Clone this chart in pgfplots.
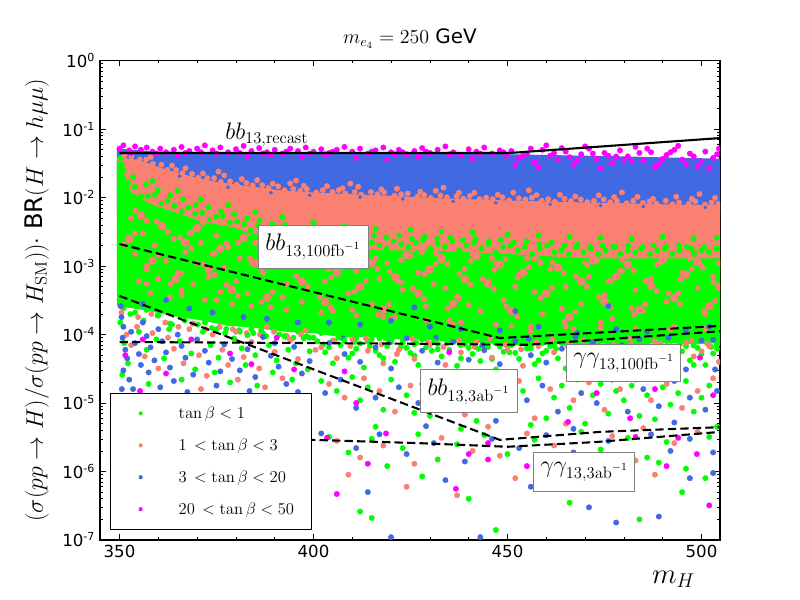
\documentclass[border=0pt]{standalone}
\usepackage[no-math]{fontspec}
\setmainfont{DejaVu Sans}
\usepackage{pgfplots}
\pgfplotsset{compat=1.18}
\definecolor{cgreen}{HTML}{00FF00}
\definecolor{csalmon}{HTML}{FA8072}
\definecolor{cblue}{HTML}{4169E1}
\definecolor{cmag}{HTML}{FF00FF}
\pgfplotsset{dots/.style={only marks, mark=*, mark size=1.95bp, mark options={line width=0.3bp}}}
\tikzset{lbl/.style={draw=gray, fill=white, line width=0.7bp, inner sep=0pt, font=\fontsize{17}{20}\selectfont}}
\begin{document}
\begin{tikzpicture}
\begin{axis}[
  scale only axis, width=446.4bp, height=345.1bp,
  xmin=344.97, xmax=504.77, ymin=1e-7, ymax=1, ymode=log,
  xtick={350,400,450,500}, minor x tick num=4,
  ytick={1e-7,1e-6,1e-5,1e-4,1e-3,1e-2,1e-1,1},
  yticklabels={10\textsuperscript{-7},10\textsuperscript{-6},10\textsuperscript{-5},10\textsuperscript{-4},10\textsuperscript{-3},10\textsuperscript{-2},10\textsuperscript{-1},10\textsuperscript{0}},
  minor ytick={2e-7,3e-7,4e-7,5e-7,6e-7,7e-7,8e-7,9e-7,2e-6,3e-6,4e-6,5e-6,6e-6,7e-6,8e-6,9e-6,2e-5,3e-5,4e-5,5e-5,6e-5,7e-5,8e-5,9e-5,2e-4,3e-4,4e-4,5e-4,6e-4,7e-4,8e-4,9e-4,2e-3,3e-3,4e-3,5e-3,6e-3,7e-3,8e-3,9e-3,2e-2,3e-2,4e-2,5e-2,6e-2,7e-2,8e-2,9e-2,2e-1,3e-1,4e-1,5e-1,6e-1,7e-1,8e-1,9e-1},
  tick align=inside, tick pos=both,
  major tick length=4bp, minor tick length=2bp,
  every tick/.style={black, line width=0.5bp},
  axis line style={line width=1bp},
  tick label style={font=\fontsize{12}{14}\selectfont},
  /pgf/number format/assume math mode=true,
  /pgf/number format/1000 sep={},
  clip marker paths=true,
  title={$m_{e_4}=250$ GeV},
  title style={font=\fontsize{14.4}{17}\selectfont, at={(0.5,1)}, anchor=base, yshift=6.3bp},
  ylabel={$(\sigma(pp\to H)/\sigma(pp\to H_{\mathrm{SM}}))\cdot$ BR$(H\to h\mu\mu)$},
  ylabel style={font=\fontsize{17.5}{21}\selectfont, at={(axis description cs:-0.1017,0.5)}, anchor=center},
  xlabel={$m_H$},
  xlabel style={font=\fontsize{20}{24}\selectfont, at={(axis description cs:1,0)}, anchor=base east, xshift=-14.4bp, yshift=-31bp},
  legend style={at={(0.0161,0.0208)}, anchor=south west, draw=black, line width=1bp, fill=white,
    inner xsep=0pt, inner ysep=3bp, row sep=0pt, font=\fontsize{12.5}{15}\selectfont,
    nodes={inner sep=0pt, text height=15.5bp, text depth=7.5bp}},
  legend cell align=left,
  legend image code/.code={\path[draw=none, fill=none] (0bp,-1bp) rectangle (49bp,1bp); \fill[#1, draw=none] (21.6bp,0bp) circle (1.5bp);},
]
% dense bands
\addplot[fill=cblue, draw=none, forget plot] coordinates {(349.3,0.052)(360,0.047)(400,0.045)(450,0.043)(480,0.04)(505,0.037)(505,0.006)(349.3,0.006)} -- cycle;
\addplot[fill=csalmon, draw=none, forget plot] coordinates {(349.3,0.039)(355,0.0355)(360,0.028)(365,0.023)(370,0.0194)(375,0.017)(380,0.0155)(385,0.0143)(390,0.0131)(395,0.0124)(400,0.0119)(410,0.0112)(420,0.0107)(430,0.0099)(440,0.0095)(450,0.0091)(460,0.0088)(470,0.0085)(480,0.0083)(490,0.008)(505,0.0078)(505,8e-4)(349.3,8e-4)} -- cycle;
\addplot[fill=cgreen, draw=none, forget plot] coordinates {(349.3,0.038)(351.5,0.02)(353,0.012)(358,0.008)(364,0.0062)(371,0.0045)(379,0.0037)(384,0.003)(392,0.0025)(402,0.002)(417,0.0017)(430,0.0017)(450,0.0015)(470,0.0013)(505,0.0013)(505,7.5e-5)(497,7.2e-5)(490,7.6e-5)(482,7e-5)(475,7.4e-5)(467,7e-5)(460,7.4e-5)(452,7e-5)(445,7.6e-5)(437,7.5e-5)(430,8.4e-5)(422,8.5e-5)(415,9.2e-5)(407,9.2e-5)(400,1.05e-4)(393,1.1e-4)(385,1.25e-4)(378,1.35e-4)(370,1.65e-4)(363,1.9e-4)(356,2.3e-4)(349.3,2.6e-4)} -- cycle;
% salmon blotches inside the green core
\addplot[dots, color=csalmon, mark size=2.9bp, forget plot] coordinates {(352.5,2.5e-3)(355.5,5.5e-3)(358.5,1.2e-3)(361,3.8e-3)(364.5,6.5e-4)(367,2.2e-3)(370,3.6e-3)(373,9e-4)(376,1.8e-3)(379,4.5e-4)(382,2.6e-3)(385,1.1e-3)(388,3.5e-4)(391,1.6e-3)(394,2.2e-3)(397,6e-4)(400,1.2e-3)(403,3e-4)(406,8e-4)(409,1.7e-3)(412,5e-4)(415,1.1e-3)(418,2.3e-4)(421,7e-4)(424,1.45e-3)(427,4e-4)(430,9e-4)(433,1.3e-3)(436,2.8e-4)(439,6.5e-4)(442,1.4e-3)(445,5.5e-4)(448,1.05e-3)(451,2.2e-4)(454,8e-4)(457,1.35e-3)(460,4e-4)(463,9.5e-4)(466,1.8e-4)(469,6e-4)(472,1.2e-3)(475,3e-4)(478,7e-4)(481,1.05e-3)(484,2.3e-4)(487,5.2e-4)(490,1.25e-3)(493,3.4e-4)(496,7.5e-4)(499,1.15e-3)(502,2.6e-4)(504.5,5e-4)};
\addplot[dots, color=csalmon, forget plot] coordinates {(354,3e-3)(351.1,2.1e-3)(357,4.6e-3)(354.1,6.5e-3)(360,1.44e-3)(357.1,1.02e-3)(362.5,3.15e-3)(359.6,4.5e-3)(366,7.8e-4)(363.1,5.5e-4)(368.5,1.83e-3)(365.6,2.6e-3)(371.5,4.3e-3)(368.6,3.06e-3)(374.5,7.5e-4)(371.6,1.06e-3)(377.5,2.16e-3)(374.6,1.53e-3)(380.5,3.7e-4)(377.6,5.3e-4)(383.5,3.1e-3)(380.6,2.2e-3)(386.5,9.1e-4)(383.6,1.3e-3)(389.5,4.2e-4)(386.6,3e-4)(392.5,1.33e-3)(389.6,1.89e-3)(395.5,2.64e-3)(392.6,1.87e-3)(398.5,5e-4)(395.6,7.1e-4)(401.5,1.44e-3)(398.6,1.02e-3)(404.5,2.5e-4)(401.6,3.5e-4)(407.5,9.6e-4)(404.6,6.8e-4)(410.5,1.41e-3)(407.6,2.0e-3)(413.5,6e-4)(410.6,4.25e-4)(416.5,9.1e-4)(413.6,1.3e-3)(419.5,2.76e-4)(416.6,1.95e-4)(422.5,5.8e-4)(419.6,8.3e-4)(425.5,1.74e-3)(422.6,1.23e-3)(428.5,3.3e-4)(425.6,4.7e-4)(431.5,1.08e-3)(428.6,7.65e-4)(434.5,1.08e-3)(431.6,1.53e-3)(437.5,3.36e-4)(434.6,2.4e-4)(440.5,5.4e-4)(437.6,7.7e-4)(443.5,1.68e-3)(440.6,1.19e-3)(446.5,4.6e-4)(443.6,6.5e-4)(449.5,1.26e-3)(446.6,8.9e-4)(452.5,1.83e-4)(449.6,2.6e-4)(455.5,9.6e-4)(452.6,6.8e-4)(458.5,1.12e-3)(455.6,1.59e-3)(461.5,4.8e-4)(458.6,3.4e-4)(464.5,7.9e-4)(461.6,1.12e-3)(467.5,2.16e-4)(464.6,1.53e-4)(470.5,5e-4)(467.6,7.1e-4)(473.5,1.44e-3)(470.6,1.02e-3)(476.5,2.5e-4)(473.6,3.5e-4)(479.5,8.4e-4)(476.6,6e-4)(482.5,8.7e-4)(479.6,1.24e-3)(485.5,2.76e-4)(482.6,1.95e-4)(488.5,4.3e-4)(485.6,6.1e-4)(491.5,1.5e-3)(488.6,1.06e-3)(494.5,2.8e-4)(491.6,4e-4)(497.5,9e-4)(494.6,6.4e-4)(500.5,9.5e-4)(497.6,1.36e-3)(503.5,3.1e-4)(500.6,2.2e-4)(503.1,5.9e-4)
(353,5e-3)(354,1.5e-3)(355,6e-4)(356,3e-3)(357,9e-4)(358,4e-4)(359,2e-3)(360,6.5e-4)(361,4e-3)(362,1.2e-3)(363,3.5e-4)(364,2.5e-3)(365,8e-4)(366,4.5e-4)(367,1.6e-3)(368,3e-3)(369,5.5e-4)(370,1.1e-3)(371,2.2e-3)(372,3.2e-4)(373,7e-4)(374,1.5e-3)(375,2.8e-3)(376,4.2e-4)(377,9.5e-4)(378,1.9e-3)(379,2.8e-4)(380,6e-4)
(381,1.3e-3)(383,4e-4)(385,2.2e-3)(387,8e-4)(389,2.5e-4)(391,1.5e-3)(393,5.5e-4)(395,2e-3)(397,3e-4)(399,1e-3)(401,1.6e-3)(403,6e-4)(405,2.2e-4)(407,1.2e-3)(409,4e-4)(411,8.5e-4)(413,1.5e-3)(415,2.8e-4)(417,6.5e-4)(419,1.1e-3)(421,1.8e-4)(423,4.5e-4)(425,1.4e-3)(427,8e-4)(429,2.6e-4)(431,5.5e-4)(433,1.2e-3)(435,1.6e-4)(437,3.6e-4)(439,9e-4)(441,1.5e-3)(443,2.2e-4)(445,6e-4)(447,1.1e-3)(449,3.2e-4)(451,1.35e-4)(453,7.5e-4)(455,1.3e-3)(457,4.2e-4)(459,2e-4)(461,9e-4)(463,1.45e-3)(465,5e-4)(467,1.2e-4)(469,2.8e-4)(471,7e-4)(473,1.2e-3)(475,3.8e-4)(477,1.7e-4)(479,8.5e-4)(481,1.4e-3)(483,4.5e-4)(485,2.2e-4)(487,6.5e-4)(489,1.1e-3)(491,3e-4)(493,1.3e-4)(495,8e-4)(497,1.3e-3)(499,4.8e-4)(501,2e-4)(503,7e-4)(504.5,1.1e-3)
(384,1.1e-3)(392,3.5e-4)(398,1.6e-3)(404,9e-4)(410,2.3e-4)(416,1.3e-3)(422,6e-4)(428,1.6e-3)(434,4.8e-4)(440,2.7e-4)(446,1.3e-3)(452,5e-4)(458,1.6e-3)(464,2.4e-4)(470,1.1e-3)(476,6e-4)(482,2.4e-4)(488,1.5e-3)(494,4e-4)(500,1e-3)(474,1.5e-4)(456,1.1e-4)(436,1.4e-4)(418,1.8e-4)
(357,5.5e-4)(366,3.8e-4)(375,3.2e-4)(384,2.6e-4)(393,2.3e-4)(402,2.1e-4)(411,1.9e-4)(420,1.7e-4)(429,1.6e-4)(438,1.5e-4)(447,1.4e-4)(456,1.3e-4)(465,1.3e-4)(474,1.25e-4)(483,1.2e-4)(492,1.2e-4)(501,1.2e-4)};
\addplot[dots, color=cblue, forget plot] coordinates {(356,2.8e-4)(362,3.2e-4)(368,2.4e-4)(374,2.1e-4)(382,1.8e-4)(388,1.7e-4)(396,1.5e-4)(404,1.5e-4)(412,1.4e-4)(420,1.6e-4)(430,1.3e-4)(438,1.2e-4)(448,1.15e-4)(458,1.3e-4)(468,1.05e-4)(478,1.2e-4)(486,1.1e-4)(496,1.15e-4)(502,1.3e-4)(426,2.5e-4)(452,2.2e-4)(476,2.6e-4)};
% green fuzzy edges of the core
\addplot[dots, color=cgreen, forget plot] coordinates {(350.3,0.038)(350.6,0.03)(351,0.025)(350.4,0.022)(351.8,0.017)
(352.2,0.0165)(353.9,0.0143)(355.6,0.0105)(357.3,0.0105)(359.1,0.0111)(360.8,0.0082)(362.4,0.0089)(364.2,0.0076)(366.1,0.0063)(367.8,0.0072)(369.5,0.0058)(371.3,0.006)(373.2,0.0048)(374.9,0.0052)(376.6,0.0054)(378.4,0.0043)(380.3,0.0045)(382.1,0.0041)(383.8,0.0033)(385.6,0.0039)(387.5,0.0035)(389.2,0.0029)(391.1,0.0033)(392.9,0.0031)(394.7,0.0026)(396.5,0.0031)(398.4,0.0025)(400.2,0.0027)(402.1,0.0028)(403.9,0.0022)(405.8,0.0024)(407.6,0.0021)(409.5,0.0023)(411.3,0.0024)(413.2,0.0019)(415.1,0.0022)(417,0.002)(418.9,0.0018)(420.7,0.0023)(422.6,0.0021)(424.5,0.0019)(426.4,0.0022)(428.2,0.0024)(430.1,0.0018)(432,0.0021)(433.9,0.0019)(435.8,0.0023)(437.6,0.0017)(439.5,0.002)(441.4,0.0022)(443.3,0.0018)(445.1,0.0021)(447,0.0016)(448.9,0.0019)(450.8,0.002)(452.7,0.0017)(454.5,0.0019)(456.4,0.0015)(458.3,0.0018)(460.2,0.002)(462.1,0.0016)(463.9,0.0017)(465.8,0.0015)(467.7,0.0019)(469.6,0.0016)(471.5,0.0018)(473.4,0.0015)(475.3,0.0017)(477.2,0.0019)(479.1,0.0015)(481,0.0017)(482.9,0.0016)(484.8,0.0019)(486.7,0.0015)(488.6,0.0017)(490.5,0.0018)(492.4,0.0015)(494.3,0.0017)(496.2,0.0019)(498.1,0.0015)(500,0.0017)(501.9,0.0016)(503.8,0.0018)
(353.5,0.02)(356.8,0.0155)(359.9,0.0128)(363.1,0.0108)(366.4,0.0095)(369.7,0.0078)(372.9,0.0073)(376.2,0.0063)(379.6,0.0058)(382.9,0.005)(386.1,0.0047)(389.4,0.0041)(392.6,0.004)(395.9,0.0036)(399.2,0.0034)(402.5,0.0032)(405.7,0.0029)(409,0.003)(412.3,0.0027)(415.6,0.0028)(418.8,0.0026)(422.1,0.0028)(425.4,0.0025)(428.7,0.0027)(431.9,0.0025)(435.2,0.0026)(438.5,0.0024)(441.8,0.0025)(445.1,0.0023)(448.3,0.0024)(451.6,0.0022)(454.9,0.0023)(458.2,0.0021)(461.4,0.0022)(464.7,0.002)(468,0.0021)(471.3,0.0019)(474.5,0.002)(477.8,0.0019)(481.1,0.002)(484.4,0.0018)(487.6,0.002)(490.9,0.0019)(494.2,0.002)(497.5,0.0018)(500.7,0.0019)(504,0.0018)
(358.5,0.0175)(365,0.0125)(371,0.0095)(378,0.0078)(385,0.0062)(392,0.0052)(400,0.0043)(408,0.0038)(416,0.0035)(425,0.0034)(433,0.0032)(441,0.0031)(450,0.0029)(458,0.0028)(466,0.0027)(474,0.0026)(482,0.0025)(490,0.0027)(498,0.0025)(504,0.0026)
(351,2.4e-4)(354,2.1e-4)(357,2.3e-4)(360,1.9e-4)(363,1.45e-4)(366,1.9e-4)(369,1.45e-4)(372,1.5e-4)(375,1.2e-4)(378,1.5e-4)(381,1.1e-4)(384,1.2e-4)(387,1.05e-4)(390,1.15e-4)(393,9.2e-5)(396,1.1e-4)(399,9e-5)(402,1.05e-4)(405,8.2e-5)(408,9.5e-5)(411,8.8e-5)(414,8e-5)(417,8.8e-5)(420,7.8e-5)(423,8.5e-5)(426,7.2e-5)(429,8.8e-5)(432,7.3e-5)(435,8.2e-5)(438,7e-5)(441,8e-5)(444,6.6e-5)(447,7.8e-5)(450,6.9e-5)(453,7.6e-5)(456,6.3e-5)(459,7.5e-5)(462,6.8e-5)(465,7.4e-5)(468,6.4e-5)(471,7.6e-5)(474,6.7e-5)(477,7.5e-5)(480,6.5e-5)(483,7.7e-5)(486,6.6e-5)(489,7.9e-5)(492,6.8e-5)(495,8e-5)(498,6.9e-5)(501,7.9e-5)(504,7.1e-5)};
% salmon fuzzy edge under the blue band
\addplot[dots, color=csalmon, forget plot] coordinates {(351.3,0.0413)(353.1,0.040)(355.2,0.0361)(356.9,0.036)(358.6,0.0312)(360.8,0.0302)(362.3,0.0255)(364.6,0.0253)(366.2,0.0227)(368.7,0.0223)(370.3,0.0195)(372.6,0.0193)(374.4,0.0193)(376.1,0.0169)(378.5,0.0173)(380.2,0.0155)(382.7,0.0164)(384.3,0.0151)(386.8,0.0152)(388.4,0.0138)(390.9,0.0146)(392.5,0.0128)(394.8,0.0134)(396.6,0.0126)(398.3,0.0133)(400.7,0.0119)(402.4,0.0129)(404.9,0.0121)(406.5,0.0129)(408.2,0.0115)(410.6,0.0121)(412.3,0.0111)(414.8,0.0121)(416.5,0.0112)(418.2,0.012)(420.9,0.0107)(422.6,0.0112)(424.3,0.0115)(426.8,0.0104)(428.5,0.0109)(430.2,0.0099)(432.7,0.0108)(434.4,0.0101)(436.9,0.0105)(438.6,0.0097)(440.3,0.0106)(442.8,0.0095)(444.5,0.01)(446.2,0.0095)(448.7,0.0101)(450.4,0.0091)(452.9,0.0098)(454.6,0.0094)(456.3,0.01)(458.8,0.009)(460.5,0.0095)(462.2,0.0087)(464.7,0.0096)(466.4,0.0089)(468.9,0.0094)(470.6,0.0086)(472.3,0.009)(474.8,0.0094)(476.5,0.0086)(478.2,0.009)(480.7,0.0083)(482.4,0.009)(484.9,0.0084)(486.6,0.0088)(488.3,0.0082)(490.8,0.009)(492.5,0.008)(494.2,0.0085)(496.7,0.0081)(498.4,0.0088)(500.9,0.0079)(502.6,0.0085)(504.3,0.0081)
(358,0.0388)(363.5,0.0294)(367,0.0269)(371.5,0.0226)(377,0.0211)(381.5,0.0187)(385.5,0.018)(389.5,0.016)(394,0.0161)(397.5,0.0149)(403.5,0.0147)(407.5,0.0137)(411.5,0.0144)(417.5,0.0132)(421.5,0.0135)(427.5,0.0122)(431.5,0.0126)(437.5,0.0118)(441.5,0.0118)(447.5,0.011)(451.5,0.0118)(457.5,0.0109)(463.5,0.011)(467.5,0.0104)(473.5,0.0108)(477.5,0.0102)(483.5,0.0103)(487.5,0.0096)(493.5,0.0103)(497.5,0.0096)(503.5,0.0099)
(375.5,0.024)(395.5,0.0178)(409.5,0.016)(433.5,0.014)(455.5,0.0128)(479.5,0.0119)(499.5,0.0113)};
\addplot[dots, color=cblue, mark size=1.2bp, forget plot] coordinates {(365.5,0.0205)(389,0.0118)(412,0.0102)(436,0.0088)(461,0.008)(485,0.0074)(501,0.0072)(423,0.0096)(447,0.0084)(474,0.0077)(399,0.0108)(378,0.0142)};
% extra points just under the core
\addplot[dots, color=csalmon, forget plot] coordinates {(400.5,6e-5)(405.5,8.2e-5)(409.5,6.8e-5)(413.5,8.8e-5)(417.5,7.2e-5)(421.5,5.2e-5)(425.5,8.6e-5)(429.5,7.6e-5)(433.5,6.6e-5)(437.5,8.2e-5)(441.5,6.6e-5)(445.5,8.8e-5)(449.5,7.1e-5)(453.5,6.1e-5)(457.5,7.8e-5)(461.5,8.6e-5)(465.5,6.8e-5)(469.5,8.2e-5)(473.5,5.9e-5)(477.5,7.2e-5)(481.5,8.8e-5)(485.5,6.6e-5)(489.5,7.4e-5)(493.5,5.8e-5)(497.5,8.2e-5)(501.5,7.4e-5)
(354.8,1.8e-4)(358.2,2e-4)(361.8,1.5e-4)(365.2,1.3e-4)(368.8,1.45e-4)(372.2,1.2e-4)(375.8,1.3e-4)(379.2,1.2e-4)(382.8,1.05e-4)(386.2,1.0e-4)(389.8,1.1e-4)(393.2,9.5e-5)(396.8,1.0e-4)};
\addplot[dots, color=cblue, forget plot] coordinates {(407.5,8.8e-5)(419.5,7.6e-5)(431.5,9e-5)(443.5,7e-5)(455.5,8.6e-5)(467.5,9.2e-5)(479.5,7e-5)(491.5,9e-5)(503,8.4e-5)};
\addplot[dots, color=cgreen, forget plot] coordinates {(402.5,7.2e-5)(406.5,9e-5)(410.5,7.8e-5)(414.5,6.8e-5)(418.5,8.8e-5)(422.5,6.6e-5)(426.5,7.6e-5)(430.5,5.8e-5)(434.5,7.5e-5)(438.5,9.5e-5)(442.5,6.2e-5)(446.5,7.8e-5)(450.5,5.5e-5)(454.5,7.4e-5)(458.5,8.8e-5)(462.5,6.2e-5)(466.5,5.3e-5)(470.5,7.4e-5)(474.5,6e-5)(478.5,8.2e-5)(482.5,6.3e-5)(486.5,8.6e-5)(490.5,5.6e-5)(494.5,7.3e-5)(498.5,8.7e-5)(502.5,6.6e-5)
(352.8,2e-4)(356.2,1.6e-4)(359.8,1.9e-4)(362.8,1.2e-4)(366.8,1.6e-4)(370.2,1.4e-4)(373.8,1.25e-4)(377.2,1.05e-4)(380.8,1.15e-4)(384.5,1.05e-4)(387.8,9.5e-5)(391.2,1.0e-4)(394.8,9e-5)(398.2,9.5e-5)};
% sparse points (legend series)
\addplot[dots, color=cgreen] coordinates {(350.2,1.5e-4)(351.2,7.5e-5)(352.2,3.8e-5)(350.7,2.6e-5)(355,1.1e-4)(357,6e-5)(359.5,8.5e-5)(361.5,4.5e-5)(363.5,1.4e-4)(365.5,8e-5)(368.5,5.3e-5)(369.5,3.1e-5)(371.5,1.1e-4)(373.5,7e-5)(375.5,4.6e-5)(377.5,1.2e-4)(379.5,8.8e-5)(381.5,6.3e-5)(383,9.8e-5)(385,5e-5)(386.5,1.15e-4)(388.5,7e-5)(390.5,4.2e-5)(392.5,9.5e-5)(393.5,6e-5)(395.5,3.8e-5)(397.5,8.8e-5)(399,5.7e-5)(374.5,2.8e-5)(382.5,3.6e-5)(389.5,2.8e-5)(398.5,3.1e-5)(394.5,2.2e-5)(366,2.2e-5)(357.5,1.9e-5)(385.5,1.8e-5)(378.5,2.0e-5)
(401,8e-5)(403,5.5e-5)(405,3.8e-5)(407,7e-5)(409,4.6e-5)(411,6.2e-5)(413,3.3e-5)(415,8.5e-5)(417,5e-5)(419,6.8e-5)(421,4e-5)(423,7.6e-5)(425,5.4e-5)(427,3.6e-5)(429,6.5e-5)(431,8e-5)(433,4.8e-5)(435,6e-5)(437,3.5e-5)(439,7.2e-5)(441,5.2e-5)(443,4.1e-5)(445,6.6e-5)(447,3.1e-5)(449,5.6e-5)(451,7e-5)(453,4.4e-5)(455,6.3e-5)(457,3.7e-5)(459,5.3e-5)(461,6.8e-5)(463,4.5e-5)(465,3.2e-5)(467,5.9e-5)(469,2.7e-5)(471,6.4e-5)(473,4.3e-5)(475,5.5e-5)(477,3.4e-5)(479,6.6e-5)(481,2.6e-5)(483,5.1e-5)(485,6.1e-5)(487,3.9e-5)(489,4.8e-5)(491,6.9e-5)(493,3.3e-5)(495,5.7e-5)(497,4.2e-5)(499,6.4e-5)(501,3.6e-5)(503,5.3e-5)(504,7.2e-5)
(400,9e-5)(404,6.5e-5)(408,8.2e-5)(412,7.4e-5)(416,5.8e-5)(420,8.6e-5)(424,6.4e-5)(428,8.4e-5)(432,6.1e-5)(436,8.8e-5)(440,6.4e-5)(444,8.8e-5)(448,6.7e-5)(452,5.4e-5)(456,6.9e-5)(460,5.8e-5)(464,7.5e-5)(468,6.5e-5)(472,5.4e-5)(476,7e-5)(480,5e-5)(484,7.1e-5)(488,5.8e-5)(492,6e-5)(496,6.8e-5)(500,5.2e-5)(504,6.2e-5)(426,4.9e-5)(446,4.4e-5)(466,4.2e-5)(486,4.5e-5)(410,5.3e-5)(418,4.5e-5)(438,4.5e-5)(458,4.2e-5)(478,4.6e-5)(498,3.6e-5)
(402,2.1e-5)(406,1.5e-5)(410,2.4e-5)(412,1.1e-5)(414,1.7e-5)(418,8e-6)(420,2.2e-5)(424,1.3e-5)(428,1.9e-5)(430,6.5e-6)(434,2.3e-5)(436,1.0e-5)(440,1.6e-5)(442,5.5e-6)(446,1.2e-5)(448,2.0e-5)(452,9e-6)(454,1.5e-5)(458,2.3e-5)(460,6e-6)(462,1.2e-5)(464,1.8e-5)(466,8.5e-6)(468,2.2e-5)(472,1.3e-5)(474,1.9e-5)(476,7e-6)(478,1.5e-5)(480,1.1e-5)(482,1.8e-5)(486,1.3e-5)(488,5.8e-6)(490,1.7e-5)(492,9.5e-6)(494,1.4e-5)(496,2.1e-5)(498,7.5e-6)(500,1.2e-5)(502,1.8e-5)(504,4.5e-6)(416,4.5e-6)(426,7.2e-6)(438,4.2e-6)(456,4.8e-6)(470,5e-6)(484,6.5e-6)
(404,3.2e-6)(409,1.9e-6)(415,3e-6)(419,1.2e-6)(423,2.2e-6)(427,3.5e-6)(432,1.5e-6)(437,2.5e-6)(444,3.4e-6)(450,1.8e-6)(457,2.9e-6)(463,1.3e-6)(469,3.8e-6)(474,2.1e-6)(481,3.1e-6)(486,1.6e-6)(491,2.7e-6)(496,1.1e-6)(502,3.2e-6)(489,1.35e-6)
(412,2.6e-7)(415,2.1e-7)(428,8.5e-7)(440,4e-7)(447,1.4e-7)(458,9e-7)(466,3.5e-7)(478,7e-7)(484,2e-7)(495,5e-7)(501,8e-7)};
\addlegendentry{\makebox[95.7bp][l]{$\tan\beta<1$}}
\addplot[dots, color=csalmon] coordinates {(350.5,2.1e-4)(351.8,1.0e-4)(353,7e-5)(354.5,1.3e-4)(356.5,4.8e-5)(358.5,1.05e-4)(360,3.2e-5)(362.5,9e-5)(364,6.2e-5)(366.5,3.8e-5)(368,1.2e-4)(370.5,5e-5)(372.5,2.5e-5)(374,1.0e-4)(376.5,6e-5)(378,3.6e-5)(380,1.1e-4)(382,4.7e-5)(384,7.8e-5)(386,3.2e-5)(388,1.3e-4)(390,5.6e-5)(392,2.3e-5)(394,8.2e-5)(396,4.4e-5)(398,1.15e-4)(371,1.6e-5)(387.5,1.7e-5)(380.5,2.2e-5)
(402,6.5e-5)(406,4.5e-5)(410,8.5e-5)(414,5.8e-5)(418,3.8e-5)(422,6e-5)(426,4.4e-5)(430,7e-5)(434,3.6e-5)(438,5.5e-5)(442,7.8e-5)(446,4.6e-5)(450,6e-5)(454,3.5e-5)(458,6.8e-5)(462,5.5e-5)(466,7.5e-5)(470,4.7e-5)(474,6.5e-5)(478,4.2e-5)(482,7.2e-5)(486,5.4e-5)(490,3.8e-5)(494,6.3e-5)(498,4.8e-5)(502,6.8e-5)(504.5,4e-5)(488,8e-5)(496,7.6e-5)(500,5.7e-5)(480,6e-5)(492,5e-5)
(404,1.9e-5)(408,1.2e-5)(413,2.3e-5)(417,1.5e-5)(421,7.5e-6)(425,1.8e-5)(431,1.1e-5)(435,2.0e-5)(439,6.8e-6)(443,1.5e-5)(449,1.0e-5)(453,2.1e-5)(457,6e-6)(461,1.6e-5)(467,1.1e-5)(471,2.0e-5)(475,8e-6)(479,1.6e-5)(483,2.2e-5)(487,1.1e-5)(491,1.9e-5)(495,8.5e-6)(499,1.5e-5)(503,2.3e-5)(445,4.5e-6)(465,5e-6)(485,4.3e-6)
(406,2.8e-6)(412,1.6e-6)(418,2.4e-6)(426,1.3e-6)(433,3.1e-6)(441,2.0e-6)(448,1.7e-6)(455,3.6e-6)(462,2.4e-6)(470,1.6e-6)(477,3.3e-6)(483,1.45e-6)(493,2.6e-6)(499,3.8e-6)
(409,9e-7)(424,6e-7)(437,4.5e-7)(452,8e-7)(470,5.5e-7)(488,9e-7)};
\addlegendentry{\makebox[95.7bp][l]{$1\,<\tan\beta<3$}}
\addplot[dots, color=cblue] coordinates {(350.3,2.6e-4)(350.5,1.8e-4)(351,1.3e-4)(350.8,9e-5)(351.5,6e-5)(352,4.5e-5)(351,3e-5)(352.5,2.2e-5)(350.6,1.6e-5)(353,1.1e-4)(354,7.5e-5)(355,5.2e-5)(356,1.5e-4)(357,9.5e-5)(358,6.5e-5)(355.5,3.6e-5)(357.5,2.8e-5)(359,4.2e-5)(360,1.2e-4)(361,8e-5)(362,5.5e-5)(363,3.3e-5)(364,2.1e-5)(365,1.0e-4)(366,6.8e-5)(367,4.6e-5)(369,2.6e-5)(370,8.5e-5)(372,5.8e-5)(373,3.9e-5)(375,1.8e-5)(377,7.2e-5)(379,4.4e-5)(381,3.0e-5)(383,6.1e-5)(385,2.4e-5)(387,9.2e-5)(389,4.9e-5)(391,3.4e-5)(393,1.9e-5)(395,6.6e-5)(397,2.7e-5)(399,4.1e-5)(353.5,1.6e-5)(360.5,1.7e-5)(367.5,1.45e-5)(376,2.9e-5)(383.5,1.5e-5)(390,7.5e-5)(396,1.45e-5)
(404,7.5e-5)(408,5.2e-5)(412,4e-5)(416,6.5e-5)(420,3.2e-5)(424,8.8e-5)(428,5.8e-5)(432,3.9e-5)(436,7.8e-5)(440,4.3e-5)(444,5.9e-5)(448,3.7e-5)(452,8e-5)(456,5e-5)(460,3.9e-5)(464,6.2e-5)(468,4.1e-5)(472,7.8e-5)(476,5.2e-5)(480,3.6e-5)(484,8.6e-5)(488,6.4e-5)(492,4.3e-5)(496,3.1e-5)(500,8.2e-5)(503.5,3.1e-5)
(403,1.4e-5)(407,2.2e-5)(411,8.5e-6)(416,1.2e-5)(422,1.7e-5)(427,1.0e-5)(433,1.5e-5)(438,1.9e-5)(444,9e-6)(450,1.4e-5)(455,1.1e-5)(459,1.8e-5)(463,7.5e-6)(469,1.4e-5)(473,1.0e-5)(477,2.2e-5)(481,7.5e-6)(485,1.6e-5)(489,9e-6)(493,2.1e-5)(497,1.2e-5)(501,8e-6)(504,1.5e-5)(429,4.6e-6)(447,5.5e-6)(467,4.2e-6)(493,5.2e-6)
(402,3.6e-6)(411,2.2e-6)(417,3.5e-6)(424,1.8e-6)(431,2.6e-6)(439,1.4e-6)(446,3.0e-6)(453,2.2e-6)(460,3.4e-6)(467,1.9e-6)(476,2.8e-6)(482,1.2e-6)(487,3.5e-6)(492,2.0e-6)(497,3.0e-6)(503,1.9e-6)
(414,5e-7)(420,1.1e-7)(434,7.5e-7)(443,1.1e-7)(456,6e-7)(471,3e-7)(478,1.8e-7)(489,2.2e-7)(497,8e-7)(503,9.5e-7)};
\addlegendentry{\makebox[95.7bp][l]{$3\,<\tan\beta<20$}}
\addplot[dots, color=cmag] coordinates {(350,0.052)(351,0.058)(352.5,0.049)(354,0.056)(355.5,0.05)(357,0.054)(358.5,0.047)(360.5,0.052)(362,0.046)(364,0.05)(366,0.055)(368,0.048)(370,0.052)(372,0.058)(374,0.049)(376,0.054)(378,0.046)(380,0.051)(382,0.057)(384,0.048)(386,0.053)(388,0.046)(390,0.05)(392,0.044)(394,0.052)(396,0.048)(398,0.054)(400,0.047)(402,0.051)(404,0.045)(406,0.05)(408,0.055)(410,0.047)(412,0.052)(414,0.044)(416,0.049)(418,0.054)(420,0.046)(422,0.05)(424,0.043)(426,0.048)(428,0.053)(430,0.045)(432,0.05)(434,0.056)(436,0.046)(438,0.042)(440,0.051)(442,0.047)(444,0.054)(446,0.044)(448,0.049)(450,0.041)
(365,0.041)(383,0.04)(397,0.039)(411,0.038)(427,0.04)(441,0.037)(389,0.042)(419,0.036)
(353,0.045)(359.5,0.044)(367,0.045)(375,0.044)(381,0.045)(387,0.044)(393,0.047)(399,0.044)(405,0.047)(415,0.047)(421,0.043)(429,0.047)(435,0.043)(443,0.044)(449,0.046)(371,0.046)(403,0.043)(423,0.046)
(451,0.048)(453,0.038)(455,0.044)(457,0.033)(459,0.05)(461,0.041)(463,0.036)(465,0.047)(467,0.03)(469,0.043)(471,0.052)(473,0.037)(475,0.045)(477,0.032)(479,0.049)(481,0.04)(483,0.055)(485,0.035)(487,0.046)(489,0.031)(491,0.042)(493,0.05)(495,0.036)(497,0.044)(499,0.029)(501,0.047)(503,0.038)(504.5,0.052)(452,0.03)(458,0.028)(466,0.039)(474,0.027)(482,0.034)(488,0.028)(496,0.031)(502,0.027)(486,0.052)(470,0.056)(460,0.058)(494,0.057)
(454,0.041)(462,0.045)(468,0.035)(476,0.041)(480,0.036)(484,0.045)(490,0.037)(492,0.046)(498,0.04)(500,0.034)(504,0.043)(456,0.052)(464,0.053)(472,0.044)(478,0.04)
(355.3,1.5e-5)(351.5,5e-5)(356,8.5e-5)(362,2.7e-5)(368.5,8.5e-5)(378.5,5.3e-5)(384,3.7e-5)(390.5,9e-5)(395,3.1e-5)(406,4.7e-7)(403.5,3.1e-6)(414,1.3e-6)(418.7,3.6e-6)(411,1.0e-5)(436.7,5.6e-7)(440,1.8e-6)(445,1.5e-6)(455,1.2e-6)(465.6,5.3e-6)(481.6,6e-6)(483,3.2e-6)(491,1.2e-6)(494,3.1e-6)(498.8,1.8e-6)(502,3.2e-7)(503,1.3e-5)(488,1.6e-5)(473,1.4e-5)(499.6,4.6e-5)(435,5.5e-5)(445,2.6e-6)(408,2.9e-5)};
\addlegendentry{\makebox[95.7bp][l]{$20\,<\tan\beta<50$}}
% limit lines
\addplot[black, line width=1.5bp, forget plot] coordinates {(350,0.0449)(450.6,0.0449)(505,0.0743)};
\addplot[black, line width=1.5bp, dash pattern=on 6bp off 3bp, forget plot] coordinates {(350,2.1e-3)(448,8.9e-5)(505,1.34e-4)};
\addplot[black, line width=1.5bp, dash pattern=on 6bp off 3bp, forget plot] coordinates {(350,7.8e-5)(420,7.4e-5)(455,7.1e-5)(505,1.12e-4)};
\addplot[black, line width=1.5bp, dash pattern=on 6bp off 3bp, forget plot] coordinates {(350,3.67e-4)(448,2.9e-6)(474,3.8e-6)(505,4.45e-6)};
\addplot[black, line width=1.5bp, dash pattern=on 6bp off 3bp, forget plot] coordinates {(350,3.0e-6)(400,2.9e-6)(427,2.6e-6)(450,2.3e-6)(473,2.7e-6)(505,3.8e-6)};
% labels
\node[anchor=base west, inner sep=0pt, font=\fontsize{17}{20}\selectfont] at (axis cs:377.2,0.0695) {$bb_{13,\mathrm{recast}}$};
\node[lbl, minimum width=79.2bp, minimum height=31bp] at (axis cs:399.9,1.9e-3) {$bb_{13,100\mathrm{fb}^{-1}}$};
\node[lbl, minimum width=82.1bp, minimum height=26.6bp] at (axis cs:480.0,3.9e-5) {$\gamma\gamma_{13,100\mathrm{fb}^{-1}}$};
\node[lbl, minimum width=69.8bp, minimum height=31bp] at (axis cs:440.0,1.48e-5) {$bb_{13,3\mathrm{ab}^{-1}}$};
\node[lbl, minimum width=72.7bp, minimum height=28.1bp] at (axis cs:469.8,1.0e-6) {$\gamma\gamma_{13,3\mathrm{ab}^{-1}}$};
\end{axis}
\pgfresetboundingbox
\path ([shift={(-72bp,-43.2bp)}]current axis.south west) rectangle ([shift={(57.6bp,43.7bp)}]current axis.north east);
\end{tikzpicture}
\end{document}
